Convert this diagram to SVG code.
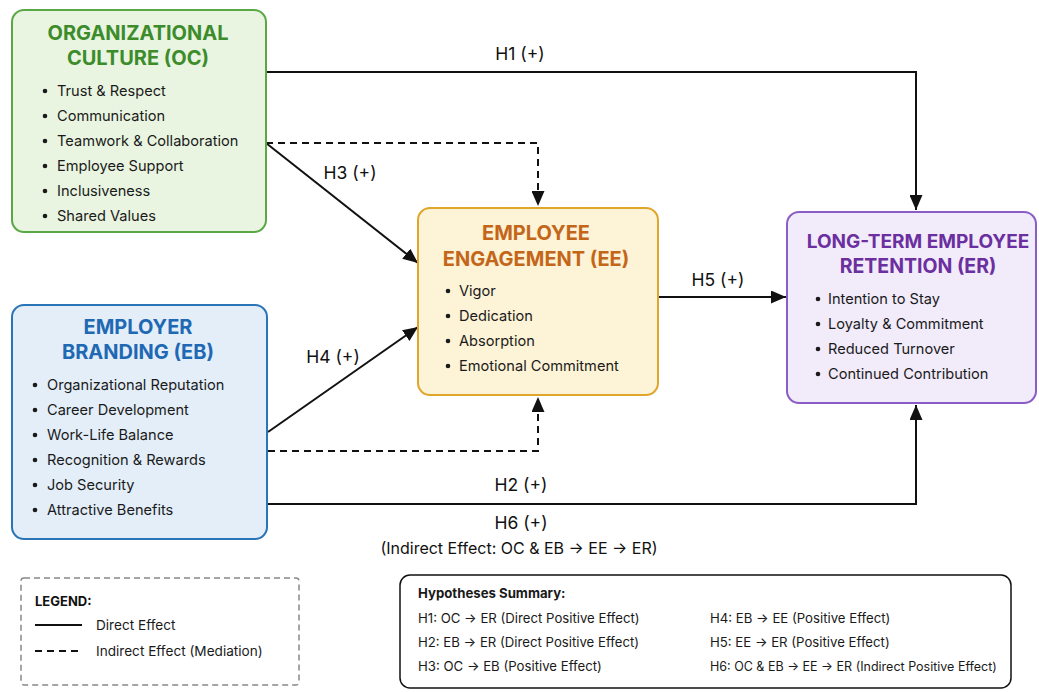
<svg xmlns="http://www.w3.org/2000/svg" width="1039" height="692" viewBox="0 0 1039 692">
<style>
.t{font-family:Inter,"Liberation Sans",sans-serif;}
.title{font-family:Inter,"Liberation Sans",sans-serif;font-size:20px;font-weight:700;text-anchor:middle;}
.item{font-family:Inter,"Liberation Sans",sans-serif;font-size:14.6px;fill:#1a1a1a;}
.lbl{font-family:Inter,"Liberation Sans",sans-serif;font-size:17.5px;fill:#111;text-anchor:middle;}
.hyp{font-family:Inter,"Liberation Sans",sans-serif;font-size:13.2px;fill:#1a1a1a;}
.conn{fill:none;stroke:#111;stroke-width:2;}
.dash{fill:none;stroke:#111;stroke-width:2;stroke-dasharray:7,5;}
.bul{fill:#1a1a1a;}
</style>
<defs>
<marker id="ah" viewBox="0 0 15 13" refX="15" refY="6.5" markerWidth="15" markerHeight="13" markerUnits="userSpaceOnUse" orient="auto">
<path d="M0,0 L15,6.5 L0,13 z" fill="#111"/>
</marker>
</defs>
<rect width="1039" height="692" fill="#ffffff"/>

<g id="connectors">
<path class="conn" d="M266,72 H916 V210" marker-end="url(#ah)"/>
<path class="dash" d="M266,143 H538 V206" marker-end="url(#ah)"/>
<path class="conn" d="M266,143 L418,263" marker-end="url(#ah)"/>
<path class="conn" d="M268,432 L418,327" marker-end="url(#ah)"/>
<path class="dash" d="M268,451 H538 V397" marker-end="url(#ah)"/>
<path class="conn" d="M268,504 H916 V405" marker-end="url(#ah)"/>
<path class="conn" d="M658,297 H786" marker-end="url(#ah)"/>
<text class="lbl" x="520" y="60">H1 (+)</text>
<text class="lbl" x="350" y="179">H3 (+)</text>
<text class="lbl" x="333" y="363">H4 (+)</text>
<text class="lbl" x="718" y="286">H5 (+)</text>
<text class="lbl" x="521" y="491">H2 (+)</text>
<text class="lbl" x="521" y="529">H6 (+)</text>
<text class="lbl" x="519" y="554" style="font-size:16px">(Indirect Effect: OC &amp; EB → EE → ER)</text>
</g>

<g id="node-oc">
<rect x="12" y="10" width="254" height="222" rx="12" fill="#e9f5e1" stroke="#5aa845" stroke-width="2"/>
<text class="title" x="138" y="40" fill="#3d8c2c">ORGANIZATIONAL</text>
<text class="title" x="138" y="65" fill="#3d8c2c">CULTURE (OC)</text>
<g class="bul">
<circle cx="45" cy="91" r="2.3"/><circle cx="45" cy="116" r="2.3"/><circle cx="45" cy="141" r="2.3"/>
<circle cx="45" cy="166" r="2.3"/><circle cx="45" cy="191" r="2.3"/><circle cx="45" cy="216" r="2.3"/>
</g>
<text class="item" x="57" y="96">Trust &amp; Respect</text>
<text class="item" x="57" y="121">Communication</text>
<text class="item" x="57" y="146">Teamwork &amp; Collaboration</text>
<text class="item" x="57" y="171">Employee Support</text>
<text class="item" x="57" y="196">Inclusiveness</text>
<text class="item" x="57" y="221">Shared Values</text>
</g>

<g id="node-eb">
<rect x="12" y="305" width="255" height="234" rx="12" fill="#e3eef9" stroke="#2a74b8" stroke-width="2"/>
<text class="title" x="138" y="334" fill="#1f68b3">EMPLOYER</text>
<text class="title" x="138" y="359" fill="#1f68b3">BRANDING (EB)</text>
<g class="bul">
<circle cx="35" cy="385" r="2.3"/><circle cx="35" cy="410" r="2.3"/><circle cx="35" cy="435" r="2.3"/>
<circle cx="35" cy="460" r="2.3"/><circle cx="35" cy="485" r="2.3"/><circle cx="35" cy="510" r="2.3"/>
</g>
<text class="item" x="47" y="390">Organizational Reputation</text>
<text class="item" x="47" y="415">Career Development</text>
<text class="item" x="47" y="440">Work-Life Balance</text>
<text class="item" x="47" y="465">Recognition &amp; Rewards</text>
<text class="item" x="47" y="490">Job Security</text>
<text class="item" x="47" y="515">Attractive Benefits</text>
</g>

<g id="node-ee">
<rect x="418" y="208" width="240" height="187" rx="12" fill="#fdf3d6" stroke="#e0a62c" stroke-width="2"/>
<text class="title" x="536" y="240" fill="#c4661a">EMPLOYEE</text>
<text class="title" x="536" y="266" fill="#c4661a">ENGAGEMENT (EE)</text>
<g class="bul">
<circle cx="448" cy="291" r="2.3"/><circle cx="448" cy="316" r="2.3"/><circle cx="448" cy="341" r="2.3"/><circle cx="448" cy="366" r="2.3"/>
</g>
<text class="item" x="459" y="296">Vigor</text>
<text class="item" x="459" y="321">Dedication</text>
<text class="item" x="459" y="346">Absorption</text>
<text class="item" x="459" y="371">Emotional Commitment</text>
</g>

<g id="node-er">
<rect x="787" y="212" width="249" height="191" rx="12" fill="#f1ebfa" stroke="#8a5cc6" stroke-width="2"/>
<text class="title" x="918" y="248" fill="#6b2fa0" style="font-size:19px">LONG-TERM EMPLOYEE</text>
<text class="title" x="918" y="273" fill="#6b2fa0" style="font-size:19.5px">RETENTION (ER)</text>
<g class="bul">
<circle cx="818" cy="299" r="2.3"/><circle cx="818" cy="324" r="2.3"/><circle cx="818" cy="349" r="2.3"/><circle cx="818" cy="374" r="2.3"/>
</g>
<text class="item" x="828" y="304">Intention to Stay</text>
<text class="item" x="828" y="329">Loyalty &amp; Commitment</text>
<text class="item" x="828" y="354">Reduced Turnover</text>
<text class="item" x="828" y="379">Continued Contribution</text>
</g>

<g id="legend">
<rect x="21" y="578" width="278" height="107" rx="3" fill="#ffffff" stroke="#888" stroke-width="1.5" stroke-dasharray="6,4"/>
<text class="t" x="35" y="606" style="font-size:13px;font-weight:700;fill:#111">LEGEND:</text>
<line x1="35" y1="625" x2="82" y2="625" stroke="#111" stroke-width="2"/>
<text class="t" x="96" y="630" style="font-size:13.6px;fill:#1a1a1a">Direct Effect</text>
<line x1="35" y1="651" x2="82" y2="651" stroke="#111" stroke-width="2" stroke-dasharray="7,5"/>
<text class="t" x="96" y="656" style="font-size:13.6px;fill:#1a1a1a">Indirect Effect (Mediation)</text>
</g>

<g id="hypotheses">
<rect x="400" y="575" width="611" height="113" rx="10" fill="#ffffff" stroke="#111" stroke-width="1.5"/>
<text class="hyp" x="418" y="598" style="font-weight:700">Hypotheses Summary:</text>
<text class="hyp" x="418" y="623">H1: OC → ER (Direct Positive Effect)</text>
<text class="hyp" x="418" y="647">H2: EB → ER (Direct Positive Effect)</text>
<text class="hyp" x="418" y="671">H3: OC → EB (Positive Effect)</text>
<text class="hyp" x="710" y="623">H4: EB → EE (Positive Effect)</text>
<text class="hyp" x="710" y="647">H5: EE → ER (Positive Effect)</text>
<text class="hyp" x="710" y="671" style="font-size:12.5px">H6: OC &amp; EB → EE → ER (Indirect Positive Effect)</text>
</g>
</svg>
